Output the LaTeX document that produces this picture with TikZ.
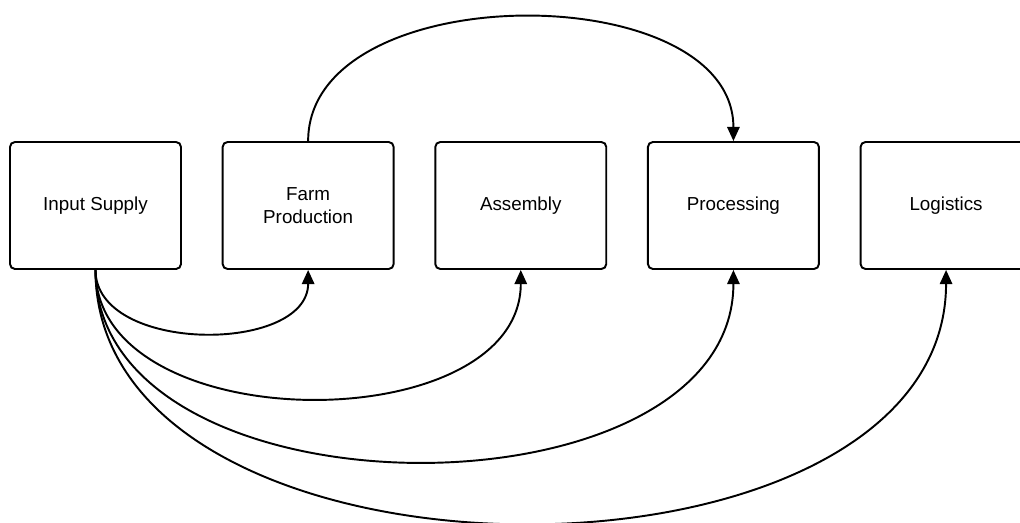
\documentclass[tikz,border=0pt]{standalone}
\usepackage{fontspec}
\setmainfont{Liberation Sans}
\usetikzlibrary{positioning}
\usetikzlibrary{arrows.meta}

\tikzset{
	stage/.style={draw, line width=1.1pt, rounded corners=2.8pt, minimum width=3.42cm,
		minimum height=2.54cm, inner sep=0pt, align=center, font=\fontsize{10.7}{13}\selectfont},
	flow/.style={line width=1.1pt, -{Triangle[length=8pt,width=7pt]}}
}

\begin{document}
\begin{tikzpicture}[x=0.02cm, y=0.02cm, node distance=0.795cm]

	\useasboundingbox (0,0) rectangle (1020,522);

	\node[stage] (supply) at (95.5,316.5) {Input Supply};
	\node[stage, right=of supply] (farm) {Farm\\Production};
	\node[stage, right=of farm] (assembly) {Assembly};
	\node[stage, right=of assembly] (processing) {Processing};
	\node[stage, right=of processing] (logistics) {Logistics};

	% over the top
	\draw[flow] (farm.north) .. controls +(0,165) and +(0,165) .. (processing.north);

	% from the input supply, below
	\draw[flow] (supply.south) .. controls +(0,-84) and +(0,-84) .. (farm.south);
	\draw[flow] (supply.south) .. controls +(0,-171) and +(0,-171) .. (assembly.south);
	\draw[flow] (supply.south) .. controls +(0,-255) and +(0,-255) .. (processing.south);
	\draw[flow] (supply.south) .. controls +(0,-337) and +(0,-337) .. (logistics.south);

\end{tikzpicture}
\end{document}
